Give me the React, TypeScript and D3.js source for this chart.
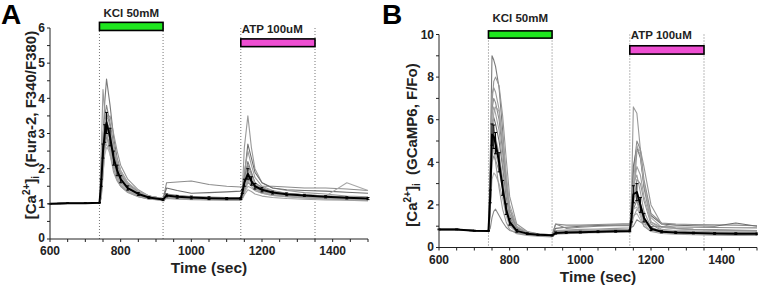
import React from "react";
import * as d3 from "d3";

// ---------- DATA ----------
const TIME = [600, 650, 700, 740, 745, 750, 755, 760, 770, 780, 790, 800, 820, 850, 880, 920, 930, 960, 1000, 1050, 1100, 1140, 1145, 1150, 1160, 1170, 1180, 1200, 1230, 1270, 1320, 1380, 1440, 1500];

const X_TICKS = [600, 800, 1000, 1200, 1400];
const A_Y_TICKS = [0, 1, 2, 3, 4, 5, 6];
const B_Y_TICKS = [0, 2, 4, 6, 8, 10];

const STIM_LINES = [740, 920, 1140, 1350];
const KCL_LABEL = "KCl 50mM";
const ATP_LABEL = "ATP 100uM";
const KCL_RANGE = [740, 920];
const ATP_RANGE = [1140, 1350];
const A_KCL_LEVEL = [5.93, 6.16];
const A_ATP_LEVEL = [5.47, 5.69];
const B_KCL_LEVEL = [9.83, 10.17];
const B_ATP_LEVEL = [9.08, 9.47];

// Panel A: Fura-2 ratio
const A_CELL_1 = [1.0, 1.02, 1.03, 1.03, 1.4, 2.8, 3.9, 4.55, 3.8, 2.9, 2.3, 1.95, 1.6, 1.35, 1.22, 1.15, 1.25, 1.22, 1.2, 1.18, 1.17, 1.16, 1.3, 1.7, 2.2, 1.9, 1.6, 1.45, 1.35, 1.3, 1.26, 1.22, 1.18, 1.15];
const A_CELL_2 = [1.0, 1.02, 1.02, 1.03, 2.5, 4.25, 3.6, 3.0, 2.4, 1.9, 1.65, 1.5, 1.35, 1.22, 1.15, 1.12, 1.2, 1.18, 1.16, 1.15, 1.14, 1.14, 1.5, 2.6, 3.5, 2.6, 2.0, 1.6, 1.45, 1.38, 1.32, 1.28, 1.22, 1.2];
const A_CELL_3 = [1.0, 1.02, 1.02, 1.03, 1.5, 2.6, 3.3, 3.6, 3.2, 2.6, 2.1, 1.8, 1.5, 1.3, 1.18, 1.13, 1.6, 1.62, 1.65, 1.55, 1.5, 1.48, 1.5, 1.55, 1.6, 1.55, 1.52, 1.5, 1.5, 1.48, 1.45, 1.45, 1.42, 1.38];
const A_CELL_4 = [1.0, 1.02, 1.02, 1.03, 1.3, 2.2, 2.9, 3.4, 3.0, 2.5, 2.1, 1.85, 1.55, 1.35, 1.22, 1.15, 1.45, 1.38, 1.3, 1.32, 1.34, 1.36, 1.45, 1.8, 2.7, 2.3, 1.9, 1.6, 1.45, 1.4, 1.38, 1.36, 1.33, 1.3];
const A_CELL_5 = [1.0, 1.01, 1.02, 1.02, 1.2, 2.0, 2.7, 3.1, 2.8, 2.3, 1.9, 1.65, 1.42, 1.26, 1.17, 1.12, 1.22, 1.2, 1.18, 1.17, 1.16, 1.16, 1.25, 1.5, 1.9, 1.75, 1.55, 1.4, 1.33, 1.28, 1.25, 1.22, 1.6, 1.38];
const A_CELL_6 = [1.0, 1.02, 1.02, 1.02, 1.15, 1.8, 2.5, 2.9, 2.7, 2.3, 1.95, 1.7, 1.45, 1.28, 1.18, 1.12, 1.2, 1.18, 1.16, 1.15, 1.14, 1.13, 1.2, 1.4, 1.7, 1.6, 1.45, 1.35, 1.28, 1.24, 1.2, 1.17, 1.15, 1.12];
const A_CELL_7 = [1.0, 1.01, 1.01, 1.02, 1.4, 2.2, 2.6, 2.7, 2.4, 2.0, 1.7, 1.5, 1.33, 1.2, 1.13, 1.1, 1.18, 1.16, 1.14, 1.13, 1.12, 1.12, 1.18, 1.3, 1.5, 1.45, 1.38, 1.3, 1.24, 1.2, 1.17, 1.14, 1.12, 1.1];
const A_CELL_8 = [1.0, 1.02, 1.03, 1.03, 1.6, 2.9, 3.5, 3.8, 3.3, 2.7, 2.2, 1.9, 1.55, 1.3, 1.19, 1.14, 1.28, 1.24, 1.21, 1.19, 1.18, 1.17, 1.3, 1.65, 2.1, 1.85, 1.6, 1.45, 1.36, 1.3, 1.26, 1.22, 1.19, 1.16];
const A_CELL_9 = [1.0, 1.01, 1.02, 1.02, 1.3, 2.3, 3.0, 3.3, 3.1, 2.6, 2.2, 1.9, 1.55, 1.3, 1.17, 1.11, 1.15, 1.14, 1.12, 1.11, 1.1, 1.1, 1.15, 1.25, 1.4, 1.35, 1.28, 1.22, 1.18, 1.15, 1.13, 1.11, 1.1, 1.08];
const A_CELL_10 = [1.0, 1.02, 1.02, 1.03, 1.5, 2.7, 3.2, 3.0, 2.5, 2.0, 1.7, 1.5, 1.32, 1.2, 1.14, 1.1, 1.2, 1.17, 1.15, 1.14, 1.13, 1.12, 1.28, 1.9, 2.5, 2.1, 1.75, 1.5, 1.38, 1.3, 1.25, 1.2, 1.17, 1.14];
const A_CELL_11 = [1.0, 1.02, 1.03, 1.04, 1.25, 1.9, 2.4, 2.6, 2.5, 2.2, 1.95, 1.75, 1.5, 1.3, 1.2, 1.14, 1.22, 1.2, 1.18, 1.17, 1.16, 1.15, 1.22, 1.45, 1.8, 1.7, 1.5, 1.38, 1.3, 1.26, 1.23, 1.2, 1.17, 1.14];
const A_CELL_12 = [1.0, 1.01, 1.02, 1.02, 1.3, 2.1, 2.9, 3.4, 3.5, 3.0, 2.5, 2.1, 1.7, 1.4, 1.22, 1.14, 1.2, 1.18, 1.17, 1.16, 1.15, 1.14, 1.2, 1.35, 1.6, 1.55, 1.45, 1.36, 1.3, 1.25, 1.22, 1.19, 1.16, 1.13];
const A_CELL_13 = [1.0, 1.02, 1.02, 1.03, 1.35, 2.4, 3.0, 3.2, 2.9, 2.45, 2.05, 1.8, 1.52, 1.32, 1.2, 1.13, 1.2, 1.18, 1.16, 1.15, 1.14, 1.13, 1.22, 1.5, 1.75, 1.6, 1.48, 1.38, 1.3, 1.25, 1.22, 1.18, 1.15, 1.12];
const A_CELL_14 = [1.0, 1.01, 1.02, 1.02, 1.5, 2.5, 2.9, 3.0, 2.6, 2.1, 1.8, 1.6, 1.38, 1.24, 1.15, 1.1, 1.18, 1.16, 1.14, 1.13, 1.12, 1.12, 1.25, 1.55, 1.85, 1.6, 1.42, 1.32, 1.26, 1.22, 1.19, 1.16, 1.13, 1.1];
const A_CELL_15 = [1.0, 1.02, 1.03, 1.03, 1.2, 2.2, 2.8, 3.2, 3.0, 2.6, 2.25, 1.95, 1.6, 1.36, 1.22, 1.15, 1.24, 1.22, 1.2, 1.18, 1.17, 1.16, 1.28, 1.6, 2.0, 1.8, 1.58, 1.42, 1.34, 1.29, 1.26, 1.23, 1.2, 1.17];
const A_CELL_16 = [1.0, 1.01, 1.01, 1.02, 1.7, 3.0, 3.4, 3.3, 2.8, 2.2, 1.8, 1.55, 1.35, 1.22, 1.14, 1.1, 1.16, 1.14, 1.13, 1.12, 1.11, 1.11, 1.2, 1.45, 1.65, 1.5, 1.38, 1.3, 1.24, 1.2, 1.17, 1.14, 1.12, 1.1];
const A_MEAN = [1.0, 1.02, 1.02, 1.03, 1.6, 2.5, 3.0, 3.3, 2.9, 2.3, 1.95, 1.7, 1.45, 1.28, 1.18, 1.12, 1.24, 1.2, 1.18, 1.16, 1.15, 1.15, 1.35, 1.6, 1.85, 1.65, 1.5, 1.4, 1.32, 1.27, 1.24, 1.2, 1.17, 1.15];
const A_SEM = [0.01, 0.01, 0.01, 0.01, 0.1, 0.2, 0.25, 0.3, 0.25, 0.2, 0.15, 0.1, 0.06, 0.04, 0.03, 0.03, 0.04, 0.04, 0.04, 0.04, 0.03, 0.03, 0.05, 0.1, 0.15, 0.12, 0.08, 0.06, 0.04, 0.04, 0.03, 0.03, 0.03, 0.03];

// Panel B: GCaMP6 F/Fo
const B_CELL_1 = [0.86, 0.86, 0.8, 0.78, 4.0, 9.0, 8.8, 8.5, 7.5, 5.5, 3.2, 1.8, 0.9, 0.7, 0.62, 0.58, 0.7, 0.72, 0.75, 0.78, 0.8, 0.82, 1.2, 1.8, 2.2, 1.8, 1.3, 0.9, 0.78, 0.74, 0.72, 0.7, 0.7, 0.68];
const B_CELL_2 = [0.85, 0.86, 0.79, 0.78, 3.5, 7.2, 7.5, 7.3, 6.5, 4.8, 3.0, 1.8, 0.95, 0.72, 0.64, 0.6, 0.8, 0.82, 0.85, 0.87, 0.9, 0.92, 2.5, 6.6, 6.3, 4.6, 2.8, 1.2, 0.95, 0.9, 0.86, 0.84, 0.82, 0.8];
const B_CELL_3 = [0.84, 0.85, 0.78, 0.77, 2.8, 6.5, 7.0, 6.8, 6.0, 4.5, 2.8, 1.6, 0.9, 0.7, 0.62, 0.58, 1.1, 1.05, 1.05, 1.08, 1.1, 1.12, 1.5, 3.5, 5.0, 4.6, 3.2, 1.6, 1.15, 1.1, 1.08, 1.06, 1.05, 1.02];
const B_CELL_4 = [0.85, 0.86, 0.79, 0.78, 2.5, 5.8, 6.1, 5.8, 5.0, 3.8, 2.4, 1.4, 0.85, 0.68, 0.6, 0.56, 0.9, 0.95, 1.0, 1.03, 1.05, 1.06, 1.6, 3.8, 4.7, 4.2, 2.9, 1.5, 1.1, 1.05, 1.02, 1.0, 1.15, 1.0];
const B_CELL_5 = [0.84, 0.85, 0.78, 0.77, 2.0, 4.8, 5.1, 4.9, 4.3, 3.2, 2.0, 1.2, 0.78, 0.64, 0.58, 0.55, 0.7, 0.74, 0.76, 0.78, 0.8, 0.8, 1.3, 3.0, 4.8, 4.3, 3.0, 1.4, 0.95, 0.88, 0.84, 0.8, 0.78, 0.76];
const B_CELL_6 = [0.85, 0.85, 0.78, 0.77, 2.2, 4.0, 4.3, 4.1, 3.6, 2.8, 1.8, 1.1, 0.75, 0.62, 0.56, 0.54, 0.68, 0.7, 0.72, 0.74, 0.76, 0.76, 1.1, 2.0, 3.2, 3.0, 2.2, 1.1, 0.8, 0.74, 0.7, 0.68, 0.67, 0.66];
const B_CELL_7 = [0.84, 0.85, 0.77, 0.76, 1.8, 3.2, 3.5, 3.4, 3.0, 2.3, 1.5, 1.0, 0.7, 0.6, 0.55, 0.52, 0.65, 0.68, 0.7, 0.72, 0.74, 0.75, 1.0, 1.5, 1.6, 1.3, 1.0, 0.8, 0.72, 0.68, 0.66, 0.64, 0.62, 0.6];
const B_CELL_8 = [0.85, 0.86, 0.79, 0.78, 0.9, 1.4, 1.7, 1.8, 1.5, 1.2, 0.95, 0.8, 0.7, 0.62, 0.58, 0.56, 1.1, 0.9, 0.95, 1.0, 1.02, 1.04, 0.95, 1.0, 1.3, 1.2, 1.1, 1.0, 0.98, 0.96, 0.95, 0.94, 0.93, 0.92];
const B_CELL_9 = [0.85, 0.86, 0.79, 0.78, 1.5, 5.0, 6.3, 6.6, 6.4, 5.2, 3.5, 2.0, 1.0, 0.72, 0.62, 0.58, 0.72, 0.74, 0.76, 0.78, 0.8, 0.8, 1.0, 1.4, 1.8, 1.6, 1.2, 0.9, 0.75, 0.72, 0.7, 0.68, 0.66, 0.64];
const B_CELL_10 = [0.84, 0.85, 0.78, 0.77, 3.5, 5.5, 4.8, 4.0, 2.8, 1.8, 1.2, 0.85, 0.65, 0.57, 0.53, 0.5, 0.62, 0.65, 0.68, 0.7, 0.72, 0.72, 1.8, 2.8, 2.2, 1.5, 1.0, 0.75, 0.66, 0.63, 0.6, 0.58, 0.57, 0.56];
const B_CELL_11 = [0.85, 0.85, 0.79, 0.78, 2.0, 4.2, 4.6, 4.4, 3.8, 3.0, 2.0, 1.2, 0.78, 0.64, 0.58, 0.55, 0.66, 0.68, 0.7, 0.72, 0.73, 0.74, 1.2, 1.8, 1.9, 1.5, 1.1, 0.8, 0.7, 0.67, 0.64, 0.62, 0.61, 0.6];
const B_CELL_12 = [0.85, 0.86, 0.79, 0.78, 2.2, 6.8, 7.8, 8.0, 7.6, 6.2, 4.2, 2.4, 1.1, 0.75, 0.64, 0.6, 0.76, 0.78, 0.8, 0.82, 0.84, 0.85, 1.2, 2.2, 4.5, 4.6, 3.8, 2.0, 1.1, 0.9, 0.85, 0.82, 0.8, 0.78];
const B_CELL_13 = [0.85, 0.86, 0.79, 0.78, 2.5, 5.2, 5.4, 5.0, 4.2, 3.0, 1.9, 1.2, 0.75, 0.62, 0.57, 0.54, 0.66, 0.68, 0.7, 0.72, 0.74, 0.75, 1.4, 2.4, 2.6, 2.1, 1.4, 0.85, 0.72, 0.68, 0.66, 0.64, 0.63, 0.62];
const B_CELL_14 = [0.84, 0.85, 0.78, 0.77, 3.0, 6.0, 5.6, 5.2, 4.4, 3.2, 2.1, 1.3, 0.8, 0.64, 0.58, 0.55, 0.7, 0.72, 0.74, 0.76, 0.78, 0.78, 1.6, 3.0, 3.4, 2.6, 1.7, 0.95, 0.76, 0.72, 0.7, 0.68, 0.66, 0.65];
const B_CELL_15 = [0.85, 0.85, 0.79, 0.78, 1.8, 4.5, 5.0, 4.8, 4.1, 3.1, 2.0, 1.25, 0.8, 0.66, 0.6, 0.57, 0.72, 0.74, 0.76, 0.78, 0.8, 0.8, 1.2, 2.0, 2.3, 1.9, 1.3, 0.88, 0.76, 0.72, 0.7, 0.68, 0.67, 0.66];
const B_CELL_16 = [0.86, 0.86, 0.8, 0.79, 2.6, 6.2, 6.6, 6.3, 5.5, 4.0, 2.6, 1.5, 0.85, 0.68, 0.6, 0.56, 0.74, 0.76, 0.78, 0.8, 0.82, 0.83, 1.5, 2.8, 3.8, 3.4, 2.4, 1.2, 0.85, 0.8, 0.77, 0.74, 0.72, 0.7];
const B_MEAN = [0.85, 0.85, 0.79, 0.78, 2.4, 5.3, 5.2, 4.9, 4.0, 2.8, 1.8, 1.2, 0.78, 0.65, 0.6, 0.57, 0.68, 0.7, 0.72, 0.74, 0.76, 0.78, 1.4, 2.5, 2.6, 2.0, 1.4, 0.88, 0.74, 0.7, 0.68, 0.66, 0.65, 0.64];
const B_SEM = [0.02, 0.02, 0.02, 0.02, 0.3, 0.5, 0.55, 0.5, 0.45, 0.35, 0.25, 0.15, 0.06, 0.04, 0.03, 0.03, 0.05, 0.04, 0.04, 0.04, 0.04, 0.04, 0.2, 0.4, 0.4, 0.35, 0.2, 0.08, 0.05, 0.04, 0.04, 0.04, 0.04, 0.04];

const A_CELLS = [A_CELL_1, A_CELL_2, A_CELL_3, A_CELL_4, A_CELL_5, A_CELL_6, A_CELL_7, A_CELL_8, A_CELL_9, A_CELL_10, A_CELL_11, A_CELL_12, A_CELL_13, A_CELL_14, A_CELL_15, A_CELL_16];
const B_CELLS = [B_CELL_1, B_CELL_2, B_CELL_3, B_CELL_4, B_CELL_5, B_CELL_6, B_CELL_7, B_CELL_8, B_CELL_9, B_CELL_10, B_CELL_11, B_CELL_12, B_CELL_13, B_CELL_14, B_CELL_15, B_CELL_16];

// ---------- STYLE ----------
const FONT = "'Liberation Sans', Arial, Helvetica, sans-serif";
const GRAYS = ["#7a7a7a", "#9a9a9a", "#8c8c8c", "#6e6e6e", "#a8a8a8", "#939393", "#b0b0b0", "#888888", "#a2a2a2", "#9c9c9c", "#b4b4b4", "#969696", "#a5a5a5", "#9e9e9e", "#aaaaaa", "#a0a0a0"];
const GREEN = "#1ee61e";
const MAGENTA = "#ee4fd2";

type PanelProps = {
  letter: string;
  letterX: number;
  x0: number;
  x1: number;
  yBottom: number;
  yTop: number;
  yMax: number;
  yTicks: number[];
  yMinorStep: number;
  cells: number[][];
  mean: number[];
  sem: number[];
  kclLevel: number[];
  atpLevel: number[];
  kclLabelY: number;
  atpLabelY: number;
  yLabelParts: string;
  yLabelX: number;
  yLabelY: number;
};

function Panel(p: PanelProps) {
  const x = d3.scaleLinear().domain([600, 1500]).range([p.x0, p.x1]);
  const y = d3.scaleLinear().domain([0, p.yMax]).range([p.yBottom, p.yTop]);
  const line = d3
    .line<number>()
    .x((_, i) => x(TIME[i]))
    .y((d) => y(d));
  const xMinor = d3.range(600, 1501, 50);
  const yMinor = d3.range(0, p.yMax + 0.001, p.yMinorStep);
  const ax = "#222";
  return (
    <g fontFamily={FONT}>
      <text x={p.letterX} y={24} fontSize={28} fontWeight="bold" fill="#000">
        {p.letter}
      </text>
      {STIM_LINES.map((t) => (
        <line key={t} x1={x(t)} x2={x(t)} y1={y(p.yMax)} y2={y(0)} stroke="#777" strokeWidth={1} strokeDasharray="1,2" />
      ))}
      <g fill="none" strokeWidth={1.1} strokeLinejoin="round">
        {p.cells.map((c, i) => (
          <path key={i} d={line(c) || ""} stroke={GRAYS[i % GRAYS.length]} />
        ))}
      </g>
      <g stroke="#000" strokeWidth={1}>
        {p.mean.map((m, i) => {
          const cx = x(TIME[i]);
          const lo = y(m - p.sem[i]);
          const hi = y(m + p.sem[i]);
          return (
            <g key={i}>
              <line x1={cx} x2={cx} y1={lo} y2={hi} />
              <line x1={cx - 1.5} x2={cx + 1.5} y1={lo} y2={lo} />
              <line x1={cx - 1.5} x2={cx + 1.5} y1={hi} y2={hi} />
            </g>
          );
        })}
      </g>
      <path d={line(p.mean) || ""} fill="none" stroke="#000" strokeWidth={2} strokeLinejoin="round" />
      <rect
        x={x(KCL_RANGE[0])}
        width={x(KCL_RANGE[1]) - x(KCL_RANGE[0])}
        y={y(p.kclLevel[1])}
        height={y(p.kclLevel[0]) - y(p.kclLevel[1])}
        fill={GREEN}
        stroke="#000"
        strokeWidth={1.6}
      />
      <rect
        x={x(ATP_RANGE[0])}
        width={x(ATP_RANGE[1]) - x(ATP_RANGE[0])}
        y={y(p.atpLevel[1])}
        height={y(p.atpLevel[0]) - y(p.atpLevel[1])}
        fill={MAGENTA}
        stroke="#000"
        strokeWidth={1.6}
      />
      <text x={(x(KCL_RANGE[0]) + x(KCL_RANGE[1])) / 2} y={p.kclLabelY} fontSize={11.5} fontWeight="bold" textAnchor="middle" fill="#222">
        {KCL_LABEL}
      </text>
      <text x={x(ATP_RANGE[0]) + 1} y={p.atpLabelY} fontSize={11.5} fontWeight="bold" fill="#222">
        {ATP_LABEL}
      </text>
      <line x1={p.x0} x2={p.x1} y1={p.yBottom} y2={p.yBottom} stroke={ax} strokeWidth={1} />
      <line x1={p.x0} x2={p.x0} y1={p.yBottom} y2={p.yTop} stroke={ax} strokeWidth={1} />
      {xMinor.map((t) => (
        <line key={"xt" + t} x1={x(t)} x2={x(t)} y1={p.yBottom} y2={p.yBottom + 3} stroke={ax} strokeWidth={1} />
      ))}
      {yMinor.map((v) => (
        <line key={"yt" + v} x1={p.x0 - 3} x2={p.x0} y1={y(v)} y2={y(v)} stroke={ax} strokeWidth={1} />
      ))}
      {X_TICKS.map((t) => (
        <text key={"xl" + t} x={x(t)} y={p.yBottom + 16} fontSize={12} fontWeight="bold" textAnchor="middle" fill="#222">
          {t}
        </text>
      ))}
      {p.yTicks.map((v) => (
        <text key={"yl" + v} x={p.x0 - 5} y={y(v) + (v === 0 ? 3 : 4.3)} fontSize={12} fontWeight="bold" textAnchor="end" fill="#222">
          {v}
        </text>
      ))}
      <text x={(p.x0 + p.x1) / 2} y={p.yBottom + 34} fontSize={15.5} fontWeight="bold" textAnchor="middle" fill="#222">
        Time (sec)
      </text>
      <text
        transform={`translate(${p.yLabelX},${p.yLabelY}) rotate(-90)`}
        fontSize={15}
        fontWeight="bold"
        textAnchor="middle"
        fill="#222"
      >
        <tspan>[Ca</tspan>
        <tspan fontSize={10} dy={-6}>2+</tspan>
        <tspan dy={6}>]</tspan>
        <tspan fontSize={10} dy={3}>i</tspan>
        <tspan dy={-3}>{"\u00a0\u00a0" + p.yLabelParts}</tspan>
      </text>
    </g>
  );
}

export default function App() {
  return (
    <svg width={758} height={286} style={{ position: "absolute", left: 0, top: 0, background: "#fff" }}>
      <rect width={758} height={286} fill="#fff" />
      <Panel
        letter="A"
        letterX={1}
        x0={50}
        x1={368}
        yBottom={239}
        yTop={28}
        yMax={6}
        yTicks={A_Y_TICKS}
        yMinorStep={0.5}
        cells={A_CELLS}
        mean={A_MEAN}
        sem={A_SEM}
        kclLevel={A_KCL_LEVEL}
        atpLevel={A_ATP_LEVEL}
        kclLabelY={17}
        atpLabelY={33}
        yLabelParts="(Fura-2, F340/F380)"
        yLabelX={36}
        yLabelY={125}
      />
      <Panel
        letter="B"
        letterX={382}
        x0={439}
        x1={757}
        yBottom={247.5}
        yTop={34.5}
        yMax={10}
        yTicks={B_Y_TICKS}
        yMinorStep={1}
        cells={B_CELLS}
        mean={B_MEAN}
        sem={B_SEM}
        kclLevel={B_KCL_LEVEL}
        atpLevel={B_ATP_LEVEL}
        kclLabelY={21.5}
        atpLabelY={39}
        yLabelParts="(GCaMP6, F/Fo)"
        yLabelX={417}
        yLabelY={145}
      />
    </svg>
  );
}
